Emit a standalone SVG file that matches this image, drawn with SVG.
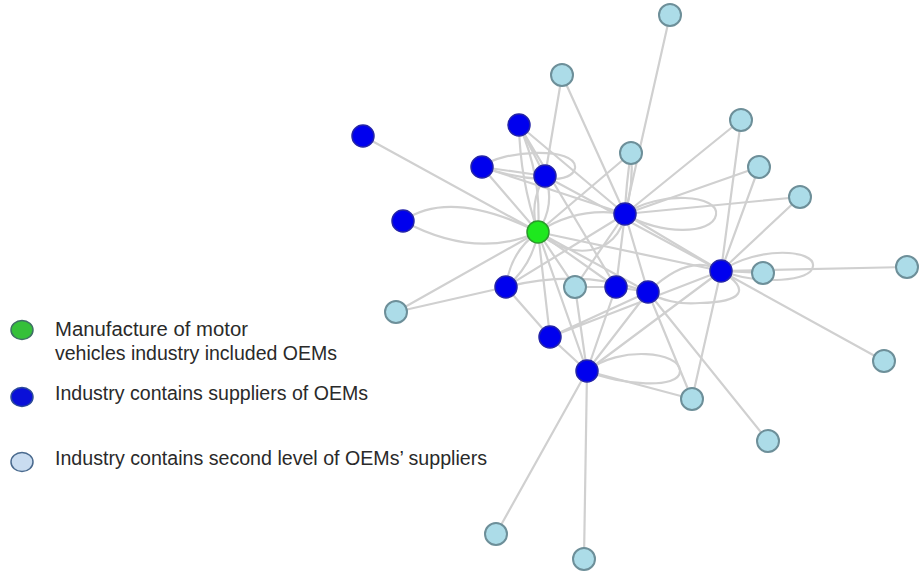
<svg xmlns="http://www.w3.org/2000/svg" width="921" height="574" viewBox="0 0 921 574">
<style>
.e{fill:none;stroke:#d0d0d0;stroke-width:2.2}
.g{fill:#1ee81e;stroke:#2a9a2a;stroke-width:1.5}
.d{fill:#0000ee;stroke:#2424a8;stroke-width:1.5}
.l{fill:#acdce8;stroke:#6d8f99;stroke-width:2}
.t{font-family:"Liberation Sans",Arial,sans-serif;font-size:19.5px;fill:#2a2a2a}
</style>
<rect width="921" height="574" fill="#fff"/>
<g id="connectors">
<path class="e" d="M538,232L363,136M538,232L396,312M538,232L482,167M538,232L721,271M538,232L550,337M538,232L587,371M538,232L616,287M538,232L648,292M538,232L575,287M538,232L631,153"/>
<path class="e" d="M396,312L506,287M506,287L550,337M506,287L625,214M550,337L587,371M550,337L648,292M550,337L721,271"/>
<path class="e" d="M587,371L496,534M587,371L584,559M587,371L692,399M587,371L616,287M587,371L648,292M587,371L721,271M587,371L575,287"/>
<path class="e" d="M616,287L625,214M616,287L648,292M648,292L625,214M648,292L692,399M648,292L768,441M575,287L625,214M575,287L616,287"/>
<path class="e" d="M721,271L625,214M721,271L741,120M721,271L759,167M721,271L800,197M721,271L907,267M721,271L884,361M721,271L692,399M721,271L763,273"/>
<path class="e" d="M625,214L670,15M625,214L562,75M625,214L741,120M625,214L759,167M625,214L800,197M625,214L519,125M625,214L482,167"/>
<path class="e" d="M625,214Q626,184 631,153M625,214Q634,184 631,153"/>
<path class="e" d="M545,176L562,75M545,176L519,125M482,167L545,176M519,125L616,287M545,176L721,271"/>
<path class="e" d="M403,221Q450,188 538,232M403,221Q476,260 538,232"/>
<path class="e" d="M545,176Q528,204 538,232M545,176Q556,204 538,232"/>
<path class="e" d="M538,232C570,262 618,256 625,214M538,232Q578,206 625,214"/>
<path class="e" d="M538,232Q532,266 506,287M538,232Q510,252 506,287"/>
<path class="e" d="M519,125Q520,180 538,232M519,125Q542,176 538,232"/>
<path class="e" d="M506,287Q580,268 648,292"/>
<path class="e" d="M482,167C500,150 578,146 575,168C572,186 520,180 482,167"/>
<path class="e" d="M625,214C660,190 720,195 716,215C712,235 660,235 625,214"/>
<path class="e" d="M721,271C760,245 815,250 813,266C812,282 760,285 721,271"/>
<path class="e" d="M721,271C752,290 742,302 700,303C680,305 660,300 648,292M648,292Q690,252 721,271"/>
<path class="e" d="M587,371C620,345 680,352 680,371C680,390 620,385 587,371"/>
</g>
<g id="G"><circle class="g" cx="538" cy="232" r="11"/></g>
<g id="D1"><circle class="d" cx="363" cy="136" r="11"/></g>
<g id="D2"><circle class="d" cx="519" cy="125" r="11"/></g>
<g id="D3"><circle class="d" cx="482" cy="167" r="11"/></g>
<g id="D4"><circle class="d" cx="545" cy="176" r="11"/></g>
<g id="D5"><circle class="d" cx="403" cy="221" r="11"/></g>
<g id="D6"><circle class="d" cx="625" cy="214" r="11"/></g>
<g id="D7"><circle class="d" cx="721" cy="271" r="11"/></g>
<g id="D8"><circle class="d" cx="506" cy="287" r="11"/></g>
<g id="D9"><circle class="d" cx="616" cy="287" r="11"/></g>
<g id="D10"><circle class="d" cx="648" cy="292" r="11"/></g>
<g id="D11"><circle class="d" cx="550" cy="337" r="11"/></g>
<g id="D12"><circle class="d" cx="587" cy="371" r="11"/></g>
<g id="L1"><circle class="l" cx="670" cy="15" r="11"/></g>
<g id="L2"><circle class="l" cx="562" cy="75" r="11"/></g>
<g id="L3"><circle class="l" cx="741" cy="120" r="11"/></g>
<g id="L4"><circle class="l" cx="631" cy="153" r="11"/></g>
<g id="L5"><circle class="l" cx="759" cy="167" r="11"/></g>
<g id="L6"><circle class="l" cx="800" cy="197" r="11"/></g>
<g id="L7"><circle class="l" cx="763" cy="273" r="11"/></g>
<g id="L8"><circle class="l" cx="907" cy="267" r="11"/></g>
<g id="L9"><circle class="l" cx="396" cy="312" r="11"/></g>
<g id="L10"><circle class="l" cx="575" cy="287" r="11"/></g>
<g id="L11"><circle class="l" cx="884" cy="361" r="11"/></g>
<g id="L12"><circle class="l" cx="692" cy="399" r="11"/></g>
<g id="L13"><circle class="l" cx="768" cy="441" r="11"/></g>
<g id="L14"><circle class="l" cx="496" cy="534" r="11"/></g>
<g id="L15"><circle class="l" cx="584" cy="559" r="11"/></g>
<g id="legend">
<ellipse cx="22" cy="330" rx="11" ry="9.5" fill="#35c03a" stroke="#3f6e66" stroke-width="1.5"/>
<ellipse cx="22" cy="397" rx="11" ry="9.5" fill="#0a10d8" stroke="#2c4a9a" stroke-width="1.5"/>
<ellipse cx="22" cy="462" rx="11" ry="9.5" fill="#c9dcf0" stroke="#4a6a8e" stroke-width="1.5"/>
<text class="t" x="55" y="336" textLength="193" lengthAdjust="spacingAndGlyphs">Manufacture of motor</text>
<text class="t" x="55" y="360" textLength="282" lengthAdjust="spacingAndGlyphs">vehicles industry included OEMs</text>
<text class="t" x="55" y="400" textLength="313" lengthAdjust="spacingAndGlyphs">Industry contains suppliers of OEMs</text>
<text class="t" x="55" y="465" textLength="432" lengthAdjust="spacingAndGlyphs">Industry contains second level of OEMs’ suppliers</text>
</g>
</svg>
